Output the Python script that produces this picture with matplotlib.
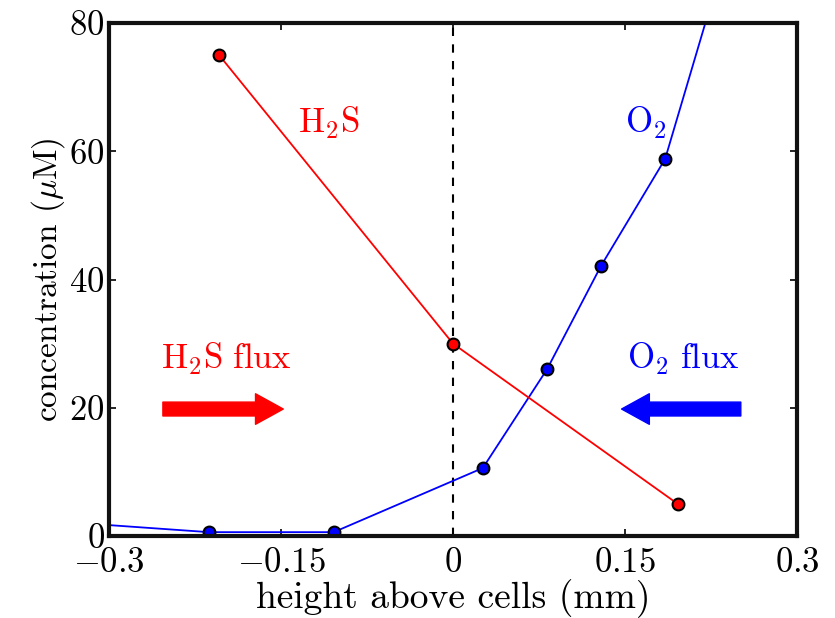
import matplotlib
matplotlib.use("Agg")
import matplotlib.pyplot as plt

plt.rcParams["font.family"] = "serif"
plt.rcParams["font.serif"] = ["cmr10"]
plt.rcParams["mathtext.fontset"] = "cm"
plt.rcParams["axes.formatter.use_mathtext"] = True

# H2S profile
h2s_x = [-0.204, 0.0, 0.196]
h2s_y = [75, 30, 5]

# O2 profile (measured points)
o2_x = [-0.213, -0.104, 0.026, 0.082, 0.129, 0.185]
o2_y = [0.6, 0.6, 10.6, 26.0, 42.1, 58.8]
# line extends beyond the measured points
o2_line_x = [-0.30] + o2_x + [0.235]
o2_line_y = [1.7] + o2_y + [89]

x_ticks = [-0.3, -0.15, 0, 0.15, 0.3]
x_tick_labels = [r"$-0.3$", r"$-0.15$", r"$0$", r"$0.15$", r"$0.3$"]
y_ticks = [0, 20, 40, 60, 80]

fig = plt.figure(figsize=(8.35, 6.18), dpi=100)
ax = fig.add_axes([109 / 835, 1 - 536 / 618, 688 / 835, 513 / 618])

ax.axvline(0, color="black", linestyle="--", linewidth=1.5, dashes=(4, 4))

ax.plot(o2_line_x, o2_line_y, color="blue", linewidth=1.3)
ax.plot(o2_x, o2_y, "o", color="blue", markeredgecolor="black", markersize=8.5, markeredgewidth=1.5)
ax.plot(h2s_x, h2s_y, color="red", linewidth=1.3)
ax.plot(h2s_x, h2s_y, "o", color="red", markeredgecolor="black", markersize=8.5, markeredgewidth=1.5)

ax.text(-0.108, 64.4, r"$\mathrm{H_2S}$", color="red", fontsize=25, ha="center", va="center")
ax.text(0.168, 64.4, r"$\mathrm{O_2}$", color="blue", fontsize=25, ha="center", va="center")
ax.text(-0.198, 27.6, r"$\mathrm{H_2S\ flux}$", color="red", fontsize=25, ha="center", va="center")
ax.text(0.201, 27.6, r"$\mathrm{O_2\ flux}$", color="blue", fontsize=25, ha="center", va="center")

arrow_style = "simple,head_width=2.2,head_length=2.0,tail_width=1.0"
ax.annotate("", xy=(-0.148, 19.8), xytext=(-0.253, 19.8),
            arrowprops=dict(arrowstyle=arrow_style, color="red", shrinkA=0, shrinkB=0,
                            mutation_scale=10))
ax.annotate("", xy=(0.147, 19.8), xytext=(0.251, 19.8),
            arrowprops=dict(arrowstyle=arrow_style, color="blue", shrinkA=0, shrinkB=0,
                            mutation_scale=10))

ax.set_xlim(-0.3, 0.3)
ax.set_ylim(0, 80)
ax.set_xticks(x_ticks)
ax.set_xticklabels(x_tick_labels)
ax.set_yticks(y_ticks)
ax.tick_params(direction="in", top=True, right=True, labelsize=25, length=5, width=1.2)
ax.tick_params(axis="x", pad=8)
ax.tick_params(axis="y", pad=3)
for s in ax.spines.values():
    s.set_linewidth(3)
    s.set_color("#111111")

ax.set_xlabel("height above cells (mm)", fontsize=27, labelpad=0)
ax.set_ylabel(r"concentration ($\mu$M)", fontsize=24, labelpad=2)

fig.savefig("out.png", dpi=100)
